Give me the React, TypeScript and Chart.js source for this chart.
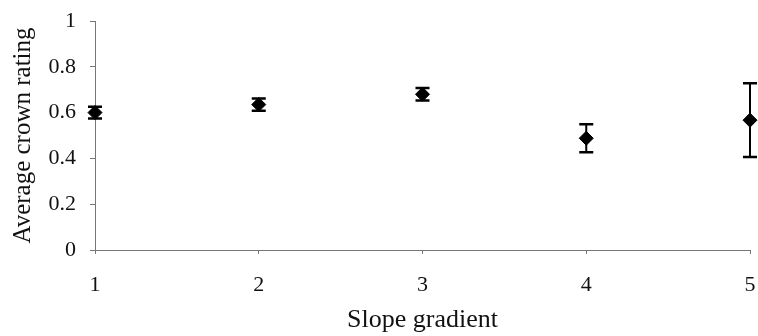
import React, { useEffect, useRef } from "react";
import { Chart, registerables } from "chart.js";

Chart.register(...registerables);

const slopeGradients = [1, 2, 3, 4, 5];
const crownRatings = [0.6, 0.635, 0.68, 0.488, 0.567];
const ratingErrors = [0.026, 0.027, 0.027, 0.061, 0.161];
const yTickValues = [0, 0.2, 0.4, 0.6, 0.8, 1];

const FONT = '"Liberation Serif", "Times New Roman", serif';

const errorBarPlugin = {
  id: "errorBars",
  afterDatasetsDraw(chart: any) {
    const { ctx, scales } = chart;
    const xs = scales.x;
    const ys = scales.y;
    ctx.save();
    ctx.strokeStyle = "#000";
    slopeGradients.forEach((g, i) => {
      const px = xs.getPixelForValue(g);
      const top = ys.getPixelForValue(crownRatings[i] + ratingErrors[i]);
      const bot = ys.getPixelForValue(crownRatings[i] - ratingErrors[i]);
      ctx.lineWidth = 2;
      ctx.beginPath();
      ctx.moveTo(px, top);
      ctx.lineTo(px, bot);
      ctx.stroke();
      ctx.lineWidth = 2.5;
      ctx.beginPath();
      ctx.moveTo(px - 7, top);
      ctx.lineTo(px + 7, top);
      ctx.moveTo(px - 7, bot);
      ctx.lineTo(px + 7, bot);
      ctx.stroke();
    });
    ctx.restore();
  },
};

export default function App() {
  const ref = useRef<HTMLCanvasElement | null>(null);

  useEffect(() => {
    if (!ref.current) return;
    const chart = new Chart(ref.current, {
      type: "scatter",
      data: {
        datasets: [
          {
            data: slopeGradients.map((g, i) => ({ x: g, y: crownRatings[i] })),
            pointStyle: "rectRot",
            pointRadius: 7,
            pointBackgroundColor: "#000",
            pointBorderColor: "#000",
            pointBorderWidth: 1,
            clip: false as any,
          },
        ],
      },
      plugins: [errorBarPlugin],
      options: {
        responsive: false,
        animation: false,
        devicePixelRatio: 1,
        layout: { padding: { top: 21, right: 3, left: 0, bottom: 0 } },
        plugins: {
          legend: { display: false },
          tooltip: { enabled: false },
        },
        scales: {
          x: {
            type: "linear",
            min: 1,
            max: 5,
            afterBuildTicks: (s: any) => {
              s.ticks = slopeGradients.map((v) => ({ value: v }));
            },
            afterFit: (s: any) => {
              s.height = 86;
              s.paddingLeft = 0;
              s.paddingRight = 0;
            },
            border: { display: true, color: "#777", width: 1 },
            grid: {
              display: true,
              drawOnChartArea: false,
              drawTicks: true,
              tickLength: 4,
              tickColor: "#777",
            },
            ticks: {
              color: "#111",
              padding: 18,
              maxRotation: 0,
              font: { family: FONT, size: 22 },
              callback: (v: any) => String(v),
            },
            title: {
              display: true,
              text: "Slope gradient",
              color: "#111",
              font: { family: FONT, size: 26 },
              padding: { top: 0, bottom: 0 },
            },
          },
          y: {
            type: "linear",
            min: 0,
            max: 1,
            afterBuildTicks: (s: any) => {
              s.ticks = yTickValues.map((v) => ({ value: v }));
            },
            afterFit: (s: any) => {
              s.width = 95;
              s.paddingTop = 0;
              s.paddingBottom = 0;
            },
            border: { display: true, color: "#777", width: 1 },
            grid: {
              display: true,
              drawOnChartArea: false,
              drawTicks: true,
              tickLength: 5,
              tickColor: "#777",
            },
            ticks: {
              color: "#111",
              padding: 14,
              font: { family: FONT, size: 22 },
              callback: (v: any) => String(Number(Number(v).toFixed(1))),
            },
            title: {
              display: true,
              text: "Average crown rating",
              color: "#111",
              font: { family: FONT, size: 25 },
              padding: { top: 8, bottom: 0 },
            },
          },
        },
      },
    } as any);
    return () => chart.destroy();
  }, []);

  return (
    <div style={{ position: "fixed", left: 0, top: 0, width: 758, height: 336, background: "#fff" }}>
      <canvas ref={ref} width={758} height={336} style={{ width: 758, height: 336, display: "block" }} />
    </div>
  );
}
